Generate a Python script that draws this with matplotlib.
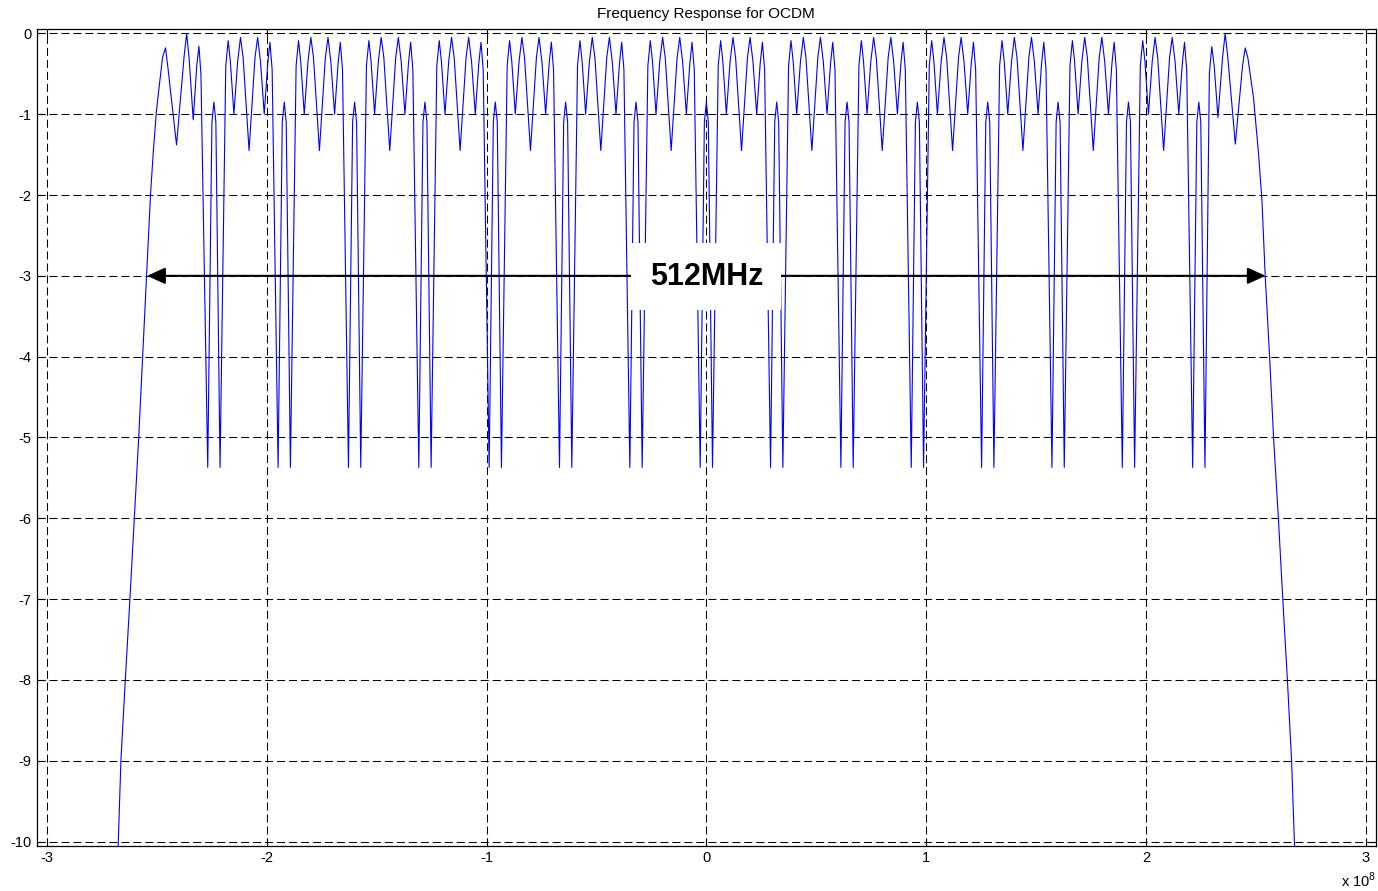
import matplotlib
matplotlib.use("Agg")
import matplotlib.pyplot as plt
import numpy as np

plt.rcParams['font.family'] = ['Liberation Sans', 'DejaVu Sans']
plt.rcParams['mathtext.fontset'] = 'custom'
plt.rcParams['mathtext.rm'] = 'Liberation Sans'

# centres of the notch pairs (MHz)
pair_centers_mhz = [-224, -192, -160, -128, -96, -64, -32, 0, 32, 64, 96, 128, 160, 192, 224]

# one ripple period, measured from a pair centre (MHz offset, dB)
period_offsets_mhz = [-2.8, -0.9, 0, 0.9, 2.8, 5.4, 6.5, 7.5, 9.1, 10.8, 12.1, 13.3,
                      16.0, 18.7, 19.9, 21.2, 22.9, 24.5, 25.5, 26.5]
period_db = [-5.37, -1.1, -0.85, -1.1, -5.37, -0.4, -0.09, -0.35, -1.0, -0.35, -0.05, -0.3,
             -1.45, -0.3, -0.05, -0.35, -1.0, -0.37, -0.11, -0.45]

# band edges
left_edge_mhz = [-267.6, -266.3, -264.3, -262.2, -260.2, -258.2, -256.4, -254.6, -252.8,
                 -251.6, -250.1, -248.9, -247.3, -246.0, -244.8, -241.0, -237.6, -236.4,
                 -235.3, -233.4, -231.8, -230.8, -229.9]
left_edge_db = [-10.1, -9.0, -8.0, -7.0, -6.0, -5.0, -4.0, -3.0, -1.98,
                -1.48, -0.95, -0.66, -0.29, -0.18, -0.45, -1.38, -0.3, 0.0,
                -0.3, -1.07, -0.4, -0.16, -0.5]
right_edge_mhz = [226.8, 228.8, 229.9, 231.0, 232.7, 234.8, 236.0, 237.2, 240.6, 243.9,
                  245.1, 246.3, 248.9, 251.2, 252.7, 254.2, 256.2, 258.0, 260.2, 262.2,
                  264.3, 266.2, 267.6]
right_edge_db = [-5.37, -0.5, -0.165, -0.4, -1.04, -0.3, 0.0, -0.3, -1.37, -0.4,
                 -0.18, -0.3, -0.8, -1.5, -2.06, -3.0, -4.0, -5.0, -6.0, -7.0,
                 -8.0, -9.0, -10.1]

band_edge_mhz = 254.4  # -3 dB points
band_label = '512MHz'

# assemble the trace
freq = list(left_edge_mhz)
resp = list(left_edge_db)
for c in pair_centers_mhz[:-1]:
    for off, val in zip(period_offsets_mhz, period_db):
        freq.append(c + off)
        resp.append(val)
for off, val in zip(period_offsets_mhz[:4], period_db[:4]):
    freq.append(pair_centers_mhz[-1] + off)
    resp.append(val)
freq += right_edge_mhz
resp += right_edge_db
freq = np.array(freq) * 1e6
resp = np.array(resp)

fig = plt.figure(figsize=(13.78, 8.91), dpi=100)
ax = fig.add_axes([0.02663, 0.05084, 0.97192, 0.91628])

ax.plot(freq, resp, color='#0000ff', lw=0.8, zorder=3, solid_joinstyle='round')

ax.set_xlim(-3.046e8, 3.046e8)
ax.set_ylim(-10.05, 0.05)
ax.set_xticks(np.arange(-3, 4) * 1e8)
ax.set_xticklabels([str(v) for v in range(-3, 4)])
ax.set_yticks(np.arange(-10, 1))
ax.set_yticklabels([str(v) for v in range(-10, 1)])
ax.tick_params(direction='in', top=True, right=True, length=5.5, width=0.8,
               labelsize=10.5, pad=4)
for s in ax.spines.values():
    s.set_linewidth(0.9)
ax.grid(True, color='k', lw=0.75, linestyle=(0, (7.7, 3.8)), zorder=1)
ax.set_axisbelow(True)

ax.set_title('Frequency Response for OCDM', fontsize=11, pad=8)

ax.annotate('', xy=(-band_edge_mhz * 1e6, -3), xytext=(band_edge_mhz * 1e6, -3),
            arrowprops=dict(arrowstyle='<|-|>,head_length=0.55,head_width=0.25',
                            mutation_scale=20, color='k', lw=1.5,
                            shrinkA=0, shrinkB=0), zorder=4)
ax.text(0, -3.01, band_label, fontsize=22, fontweight='bold', ha='center', va='center',
        bbox=dict(boxstyle='square,pad=0.6', fc='white', ec='none'), zorder=5)

fig.text(1341 / 1378, 1 - 887 / 891, r'x 10$^{8}$', fontsize=10.5, ha='left', va='baseline')

fig.savefig('out.png', dpi=100)
